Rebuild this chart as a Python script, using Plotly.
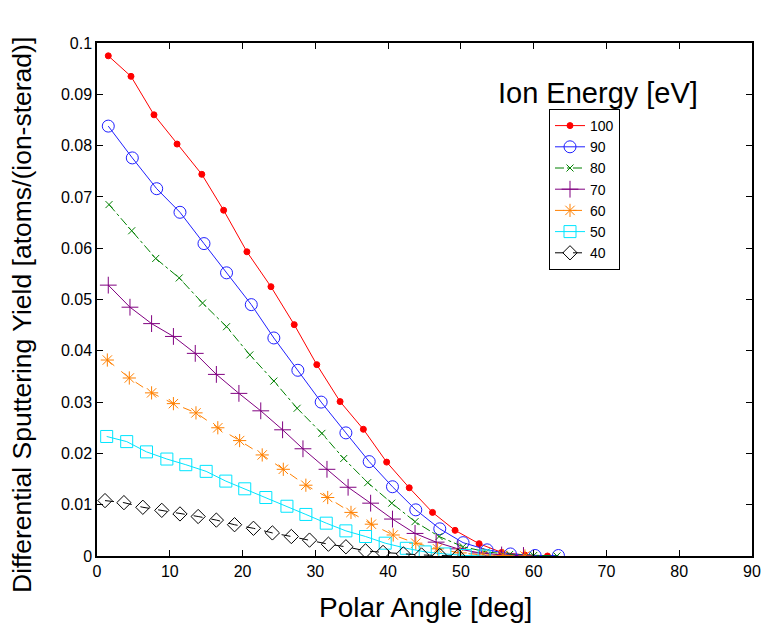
import plotly.graph_objects as go

# Polar angle (deg) per series
x100 = [1.55, 4.67, 7.83, 11.0, 14.4, 17.4, 20.6, 23.9, 27.1, 30.2, 33.4, 36.6, 39.8, 42.9, 46.1, 49.2, 52.5, 55.6, 58.8, 61.9]
y100 = [0.0975, 0.0935, 0.0860, 0.0803, 0.0744, 0.0674, 0.0593, 0.0525, 0.0451, 0.0373, 0.0301, 0.0247, 0.0183, 0.0133, 0.0085, 0.0050, 0.0024, 0.0007, 0.0002, 0.0]

x90 = [1.55, 4.85, 8.2, 11.4, 14.7, 17.8, 21.2, 24.3, 27.6, 30.8, 34.2, 37.4, 40.6, 43.8, 47.1, 50.3, 53.6, 56.8, 60.2, 63.4]
y90 = [0.0838, 0.0776, 0.0716, 0.0670, 0.0609, 0.0552, 0.0490, 0.0425, 0.0362, 0.0300, 0.0240, 0.0184, 0.0135, 0.0090, 0.0053, 0.0026, 0.0012, 0.0004, 0.0001, 0.0001]

x80 = [1.65, 4.77, 8.07, 11.3, 14.5, 17.8, 21.0, 24.3, 27.5, 30.9, 33.9, 37.2, 40.5, 43.7, 47.0, 50.3, 53.5, 56.7, 60.0, 63.2]
y80 = [0.0685, 0.0634, 0.0580, 0.0542, 0.0493, 0.0447, 0.0392, 0.0341, 0.0288, 0.0239, 0.0190, 0.0143, 0.0103, 0.0067, 0.0038, 0.0018, 0.0008, 0.0003, 0.0001, 0.0]

x70 = [1.55, 4.53, 7.5, 10.5, 13.5, 16.4, 19.5, 22.5, 25.5, 28.3, 31.6, 34.5, 37.6, 40.6, 43.7, 46.6, 49.6, 52.6, 55.6, 58.6]
y70 = [0.0528, 0.0485, 0.0453, 0.0428, 0.0395, 0.0354, 0.0317, 0.0283, 0.0246, 0.0209, 0.0169, 0.0134, 0.0103, 0.0072, 0.0044, 0.0027, 0.0014, 0.0006, 0.0002, 0.0001]

x60 = [1.42, 4.44, 7.5, 10.5, 13.6, 16.6, 19.6, 22.7, 25.6, 28.7, 31.7, 34.9, 37.7, 40.7, 43.8, 46.8, 49.9, 53.0, 55.8, 58.8]
y60 = [0.0382, 0.0347, 0.0318, 0.0297, 0.0279, 0.0250, 0.0225, 0.0197, 0.0169, 0.0138, 0.0114, 0.0085, 0.0062, 0.0041, 0.0025, 0.0014, 0.0006, 0.0002, 0.0001, 0.0]

x50 = [1.33, 4.08, 6.8, 9.6, 12.2, 15.0, 17.7, 20.3, 23.2, 26.1, 28.7, 31.5, 34.2, 36.9, 39.6, 42.5, 45.1, 47.8, 50.6, 53.2]
y50 = [0.0233, 0.0223, 0.0203, 0.0189, 0.0178, 0.0165, 0.0146, 0.0131, 0.0114, 0.0097, 0.0081, 0.0064, 0.0049, 0.0038, 0.0025, 0.0015, 0.0008, 0.0004, 0.0001, 0.0]

x40 = [1.1, 3.7, 6.3, 8.9, 11.4, 13.9, 16.4, 18.9, 21.5, 24.1, 26.7, 29.2, 31.8, 34.2, 36.9, 39.3, 42.1, 44.6, 47.1, 49.6]
y40 = [0.0108, 0.0104, 0.0095, 0.0089, 0.0082, 0.0077, 0.0070, 0.0061, 0.0054, 0.0045, 0.0038, 0.0031, 0.0023, 0.0018, 0.0010, 0.0007, 0.0004, 0.0002, 0.0001, 0.0]

names = ["100", "90", "80", "70", "60", "50", "40"]
xs = [x100, x90, x80, x70, x60, x50, x40]
ys = [y100, y90, y80, y70, y60, y50, y40]

x_ticks = [0, 10, 20, 30, 40, 50, 60, 70, 80, 90]
x_ticktext = ["0", "10", "20", "30", "40", "50", "60", "70", "80", "90"]
y_ticks = [0, 0.01, 0.02, 0.03, 0.04, 0.05, 0.06, 0.07, 0.08, 0.09, 0.1]
y_ticktext = ["0", "0.01", "0.02", "0.03", "0.04", "0.05", "0.06", "0.07", "0.08", "0.09", "0.1"]

x_title = "Polar Angle [deg]"
y_title = "Differential Sputtering Yield [atoms/(ion-sterad)]"
legend_title = "Ion Energy [eV]"

styles = [
    dict(color="#ff0000", dash="solid", symbol="circle", size=6),
    dict(color="#2020ff", dash="solid", symbol="circle-open", size=12),
    dict(color="#008000", dash="dashdot", symbol="x-thin-open", size=7),
    dict(color="#800080", dash="solid", symbol="cross-thin-open", size=12),
    dict(color="#ff8000", dash="dash", symbol="asterisk-open", size=11),
    dict(color="#00e5ff", dash="solid", symbol="square-open", size=12),
    dict(color="#000000", dash="dash", symbol="diamond-open", size=11),
]

fig = go.Figure()
for n, xv, yv, s in zip(names, xs, ys, styles):
    fig.add_trace(go.Scatter(
        x=xv, y=yv, name=n, mode="lines+markers",
        line=dict(color=s["color"], width=1, dash=s["dash"]),
        marker=dict(symbol=s["symbol"], size=s["size"], color=s["color"],
                    line=dict(color=s["color"], width=1)),
    ))

# plot-area pixel geometry (figure 762x629)
L, R, T, B = 97, 752, 43, 556
W, H = R - L, B - T

def px(xp):
    return (xp - L) / W

def py(yp):
    return (B - yp) / H

font_family = "Liberation Sans, Arial, sans-serif"
fig.update_layout(
    width=762, height=629,
    margin=dict(l=L, r=762 - R, t=T, b=629 - B),
    paper_bgcolor="white", plot_bgcolor="white",
    font=dict(family=font_family, color="black", size=16),
    xaxis=dict(range=[0, 90], tickvals=x_ticks, ticktext=x_ticktext,
               ticks="inside", ticklen=6, tickcolor="black",
               showline=True, linecolor="black", linewidth=1.5, mirror="ticks",
               showgrid=False, zeroline=False, automargin=False,
               tickfont=dict(size=16)),
    yaxis=dict(range=[0, 0.1], tickvals=y_ticks, ticktext=y_ticktext,
               ticks="inside", ticklen=6, tickcolor="black",
               showline=True, linecolor="black", linewidth=1.5, mirror="ticks",
               showgrid=False, zeroline=False, automargin=False,
               tickfont=dict(size=16)),
    legend=dict(x=px(549), y=py(109), xanchor="left", yanchor="top",
                bordercolor="black", borderwidth=1, bgcolor="white",
                font=dict(size=14), tracegroupgap=0, itemwidth=30),
    showlegend=True,
    annotations=[
        dict(text=legend_title, x=px(598), y=py(93), xref="paper", yref="paper",
             xanchor="center", yanchor="middle", showarrow=False, font=dict(size=29)),
        dict(text=x_title, x=px(425), y=py(607), xref="paper", yref="paper",
             xanchor="center", yanchor="middle", showarrow=False, font=dict(size=28)),
        dict(text=y_title, x=px(22), y=py(315), xref="paper", yref="paper",
             xanchor="center", yanchor="middle", showarrow=False, textangle=-90,
             font=dict(size=26.5)),
    ],
)

fig.write_html("out.html", config={"displayModeBar": False},
               post_script="document.body.style.margin='0';document.body.style.overflow='hidden';")
